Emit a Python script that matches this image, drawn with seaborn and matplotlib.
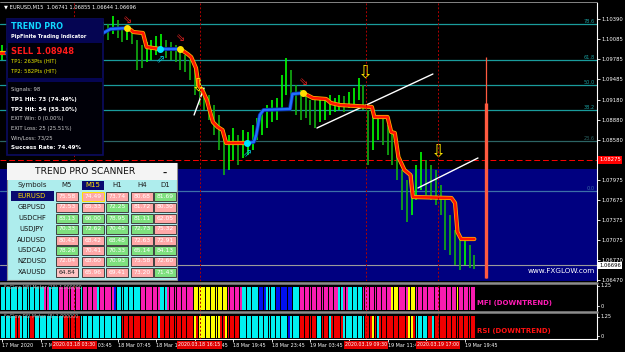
import matplotlib
matplotlib.use("Agg")
import matplotlib.pyplot as plt
import matplotlib.transforms as mtransforms
from matplotlib.patches import Rectangle
import numpy as np
import pandas as pd
import seaborn as sns

# ------------------------------------------------------------------ data
chart_title = "\u25BC EURUSD,M15  1.06741 1.06855 1.06644 1.06696"
price_ticks = [1.10390, 1.10085, 1.09785, 1.09485, 1.09180, 1.08880, 1.08580,
               1.07975, 1.07675, 1.07375, 1.07075, 1.06770, 1.06470]
price_range = [1.06460, 1.10630]
time_tick_bars = [0, 16, 32, 48, 64, 80, 96, 112, 128, 144, 160, 176, 192]
time_tick_labels = ["17 Mar 2020", "17 Mar 23:45", "18 Mar 03:45", "18 Mar 07:45",
                    "18 Mar 11:45", "18 Mar 15:45", "18 Mar 19:45", "18 Mar 23:45",
                    "19 Mar 03:45", "19 Mar 07:45", "19 Mar 11:45", "19 Mar 15:45",
                    "19 Mar 19:45"]
event_bars = [30, 82, 151, 181]
event_labels = ["2020.03.18 03:30", "2020.03.18 16:15", "2020.03.19 09:30", "2020.03.19 17:00"]

# price bars (one per 30 min)
bar_highs = [1.10000, 1.09955, 1.10045, 1.10075, 1.10105, 1.10135, 1.10105, 1.10150, 1.10195, 1.10225,
             1.10195, 1.10255, 1.10285, 1.10255, 1.10315, 1.10345, 1.10300, 1.10345, 1.10375, 1.10345,
             1.10375, 1.10345, 1.10315, 1.10435, 1.10375, 1.10255, 1.10225, 1.10195, 1.10075, 1.10000,
             1.10045, 1.10075, 1.10135, 1.10165, 1.10075, 1.10045, 1.10000, 1.09925, 1.09850, 1.09775,
             1.09625, 1.09475, 1.09355, 1.09250, 1.09100, 1.08950, 1.08725, 1.08650, 1.08755, 1.08650,
             1.08725, 1.08695, 1.08800, 1.08905, 1.09025, 1.09100, 1.09175, 1.09205, 1.09550, 1.09805,
             1.09625, 1.09400, 1.09325, 1.09250, 1.09175, 1.09175, 1.09205, 1.09175, 1.09250, 1.09205,
             1.09250, 1.09235, 1.09295, 1.09355, 1.09505, 1.09400, 1.09025, 1.08950, 1.08905, 1.08950,
             1.08800, 1.08725, 1.08575, 1.08125, 1.07975, 1.08050, 1.08200, 1.08395, 1.08275, 1.08200,
             1.08125, 1.07900, 1.07675, 1.07450, 1.07225, 1.07075, 1.07105, 1.07000, 1.06855]
bar_lows = [1.09775, 1.09805, 1.09850, 1.09895, 1.09925, 1.09955, 1.09925, 1.09985, 1.10015, 1.10045,
            1.10015, 1.10075, 1.10105, 1.10075, 1.10135, 1.10165, 1.10135, 1.10180, 1.10195, 1.10165,
            1.10225, 1.10135, 1.10075, 1.10165, 1.10105, 1.10045, 1.10075, 1.10015, 1.09625, 1.09655,
            1.09745, 1.09775, 1.09850, 1.09895, 1.09805, 1.09775, 1.09745, 1.09625, 1.09595, 1.09475,
            1.09250, 1.09100, 1.09025, 1.08875, 1.08650, 1.08425, 1.08050, 1.08125, 1.08275, 1.08200,
            1.08305, 1.08350, 1.08425, 1.08575, 1.08650, 1.08755, 1.08845, 1.08875, 1.09025, 1.09250,
            1.09175, 1.08950, 1.08875, 1.08905, 1.08800, 1.08755, 1.08845, 1.08875, 1.08950, 1.08995,
            1.09025, 1.08995, 1.09055, 1.09100, 1.09175, 1.09025, 1.08200, 1.08425, 1.08575, 1.08500,
            1.08350, 1.08200, 1.07975, 1.07525, 1.07345, 1.07450, 1.07675, 1.07825, 1.07750, 1.07675,
            1.07600, 1.07450, 1.06925, 1.06850, 1.06700, 1.06625, 1.06700, 1.06655, 1.06644]
bars_per_candle = 2
last_price = 1.06696

# trend indicator (stepped line) segments
seg_dir = ["down", "up", "down", "up", "down", "up", "down"]
seg_bar = [
    [-1, 2],
    [2, 24, 42, 45, 52],
    [52, 53.5, 54.5, 58.5, 60, 65.5],
    [65.5, 74],
    [74, 77, 78.5, 80.5, 81.5, 83.5, 85, 87.5, 89.5, 91.5, 93, 101.5],
    [101.5, 104.5, 105.5, 107, 108.5, 119.5, 120.5, 125],
    [125, 129, 134.5, 136.5, 140, 153.5, 154.5, 160, 161.5, 163, 164.5, 167, 169.5,
     170.5, 186.5, 188, 189, 190.5, 196]]
seg_price = [
    [1.09880, 1.09880],
    [1.09880, 1.10075, 1.10180, 1.10240, 1.10255],
    [1.10255, 1.10225, 1.10195, 1.10180, 1.09970, 1.09940],
    [1.09940, 1.09940],
    [1.09940, 1.09865, 1.09820, 1.09655, 1.09400, 1.09295, 1.09175, 1.08845, 1.08770,
     1.08725, 1.08530, 1.08530],
    [1.08530, 1.08545, 1.08650, 1.08950, 1.09025, 1.09040, 1.09265, 1.09280],
    [1.09280, 1.09205, 1.09190, 1.09130, 1.09100, 1.09070, 1.08920, 1.08920, 1.08695,
     1.08680, 1.08320, 1.08125, 1.08050, 1.07720, 1.07705, 1.07630, 1.07195, 1.07090, 1.07090]]
buy_dot_bar = [65.5, 101.5]
buy_dot_price = [1.09940, 1.08530]
sell_dot_bar = [52, 74, 125]
sell_dot_price = [1.10255, 1.09940, 1.09280]
sell_arrow_bar = [52, 74, 125]
sell_arrow_price = [1.10375, 1.10105, 1.09440]
buy_arrow_bar = [66, 102]
buy_arrow_price = [1.09775, 1.08365]
alert_bar = [81.7, 151, 181]
alert_price = [1.09385, 1.09580, 1.08395]

# white trend lines
wline_bar = [[79.7, 83.8], [130.7, 178.8], [172.6, 197.5]]
wline_price = [[1.08950, 1.09355], [1.08755, 1.09565], [1.07855, 1.08305]]

# fibonacci levels
fib_labels = ["78.6", "61.8", "50.0", "38.2", "23.6", "0.0"]
fib_prices = [1.10315, 1.09775, 1.09400, 1.09025, 1.08560, 1.07810]
zone_top = 1.08140
sell_level = 1.08275
marker_bar = 201
marker_thin_top = 1.09820
marker_thick_top = 1.09130
marker_bottom = 1.06505

# meters (run-length encoded colours per bar)
mfi_run_color = ["c", "m", "c", "m", "c", "m", "c", "m", "b", "c", "m", "c", "m", "y", "m", "c",
                 "b", "c", "b", "c", "m", "c", "m", "c", "m", "y", "m", "y", "m", "y", "m"]
mfi_run_len = [18, 2, 4, 9, 1, 6, 1, 6, 1, 10, 8, 3, 11, 14, 6, 7,
               3, 4, 7, 3, 16, 2, 2, 6, 12, 3, 4, 3, 17, 1, 7]
rsi_run_color = ["c", "r", "c", "r", "c", "r", "c", "r", "c", "r", "y", "r", "y", "r", "y", "r",
                 "c", "b", "c", "r", "c", "r", "c", "r", "c", "r", "y", "r", "c", "r", "y", "r",
                 "c", "r", "c", "r"]
rsi_run_len = [6, 2, 4, 2, 12, 7, 17, 15, 1, 14, 1, 1, 9, 2, 1, 5,
               20, 1, 4, 7, 2, 3, 1, 5, 9, 3, 1, 1, 1, 12, 2, 1,
               5, 2, 1, 17]
meter_palette = {"c": "#00F0F0", "m": "#F81CB0", "y": "#FFFF00", "b": "#0010F0", "r": "#F00000"}

# info panel
info_title = "TREND PRO"
info_sub = "PipFinite Trading Indicator"
info_signal = "SELL 1.08948"
info_tp = ["TP1: 263Pts (HIT)", "TP2: 582Pts (HIT)"]
info_stats = ["Signals: 98", "TP1 Hit: 73 (74.49%)", "TP2 Hit: 54 (55.10%)",
              "EXIT Win: 0 (0.00%)", "EXIT Loss: 25 (25.51%)", "Win/Loss: 73/25",
              "Success Rate: 74.49%"]
info_stats_bold = [False, True, True, False, False, False, True]

# scanner
scanner_symbols = ["EURUSD", "GBPUSD", "USDCHF", "USDJPY", "AUDUSD", "USDCAD", "NZDUSD", "XAUUSD"]
scanner_tfs = ["M5", "M15", "H1", "H4", "D1"]
scanner_values = [
    [75.58, 74.49, 73.74, 80.68, 81.69],
    [72.53, 65.33, 72.25, 81.72, 80.30],
    [83.13, 66.00, 78.95, 81.11, 62.05],
    [70.33, 72.62, 70.45, 72.73, 75.32],
    [80.43, 68.42, 68.48, 72.63, 72.91],
    [78.26, 70.41, 70.33, 65.14, 84.13],
    [72.04, 68.60, 70.93, 75.58, 72.60],
    [64.84, 65.96, 69.41, 73.20, 71.43]]
scanner_up = [
    [0, 0, 0, 0, 1],
    [0, 0, 1, 0, 0],
    [1, 1, 1, 1, 0],
    [1, 1, 1, 1, 0],
    [0, 0, 1, 0, 0],
    [1, 0, 1, 1, 1],
    [0, 0, 1, 0, 0],
    [0, 0, 0, 0, 1]]

# ------------------------------------------------------------------ style
sns.set_theme(style="dark", rc={"axes.facecolor": "black", "figure.facecolor": "black",
                                "axes.grid": False, "patch.force_edgecolor": False})
plt.rcParams["font.family"] = ["DejaVu Sans"]

W, H = 625, 352
fig = plt.figure(figsize=(W / 100, H / 100), dpi=100, facecolor="black")


def px_axes(x0, y0, x1, y1, z=0):
    return fig.add_axes([x0 / W, 1 - y1 / H, (x1 - x0) / W, (y1 - y0) / H], zorder=z)


ax = px_axes(0, 3, 597, 281)
ax_mfi = px_axes(0, 284, 597, 311)
ax_rsi = px_axes(0, 313, 597, 339)
ov = px_axes(0, 0, W, H, z=10)
ov.set_xlim(0, W)
ov.set_ylim(H, 0)
ov.axis("off")
ov.patch.set_alpha(0)

XLIM = (-0.83, 246.9)

# ------------------------------------------------------------------ main chart
ax.set_facecolor("black")
ax.set_xlim(*XLIM)
ax.set_ylim(*price_range)
ax.axhspan(price_range[0], zone_top, color="#000080", lw=0, zorder=0)

blend = mtransforms.blended_transform_factory(ax.transAxes, ax.transData)
for lab, p in zip(fib_labels, fib_prices):
    col = "#1A9C9C"
    if lab == "23.6":
        col = "#2C6464"
    if lab == "0.0":
        col = "#3C6FA8"
    ax.axhline(p, color=col, lw=0.9, zorder=1)
    ax.text(0.997, p + 0.00006, lab, transform=blend, ha="right", va="bottom",
            fontsize=3.6, color=col, zorder=2)

ax.axhline(sell_level, color="#FF0000", lw=0.7, ls=(0, (6, 3)), zorder=1)
ax.axhline(last_price, color="#9A9A9A", lw=0.8, zorder=1)

# candles
df = pd.DataFrame({"high": bar_highs, "low": bar_lows})
df["bar"] = np.arange(len(df)) * bars_per_candle
mid = (df["high"] + df["low"]) / 2
up = mid.diff().fillna(0) >= 0
ax.vlines(df["bar"], df["low"], df["high"], colors=np.where(up, "#00FF00", "#12B012"),
          lw=1.2, zorder=3)

# white trend lines
for xs, ps in zip(wline_bar, wline_price):
    sns.lineplot(x=xs, y=ps, ax=ax, color="white", lw=1.0, estimator=None, sort=False,
                 legend=False, zorder=4)

# trend indicator
for d, xs, ps in zip(seg_dir, seg_bar, seg_price):
    if d == "down":
        sns.lineplot(x=xs, y=ps, ax=ax, color="#FFB400", lw=3.0, estimator=None, sort=False,
                     legend=False, zorder=5)
        sns.lineplot(x=xs, y=ps, ax=ax, color="#FF1400", lw=1.9, estimator=None, sort=False,
                     legend=False, zorder=5)
    else:
        sns.lineplot(x=xs, y=ps, ax=ax, color="#0A2AA8", lw=2.8, estimator=None, sort=False,
                     legend=False, zorder=5)
        sns.lineplot(x=xs, y=ps, ax=ax, color="#2070FF", lw=1.7, estimator=None, sort=False,
                     legend=False, zorder=5)
ax.plot(buy_dot_bar, buy_dot_price, "o", color="#00E5FF", ms=4, zorder=6)
ax.plot(sell_dot_bar, sell_dot_price, "o", color="#FFE000", ms=4, zorder=6)
for b, p in zip(sell_arrow_bar, sell_arrow_price):
    ax.text(b, p, "\u21D8", color="#E02020", fontsize=8, ha="center", va="center", zorder=6)
for b, p in zip(buy_arrow_bar, buy_arrow_price):
    ax.text(b, p, "\u21D7", color="#00C8E0", fontsize=8, ha="center", va="center", zorder=6)
for b, p in zip(alert_bar, alert_price):
    ax.text(b, p, "\u21E9", color="#FFE600", fontsize=13, ha="center", va="center",
            zorder=7)

# orange marker line
ax.vlines(marker_bar, marker_bottom, marker_thin_top, color="#FF5A40", lw=0.9, zorder=4)
ax.vlines(marker_bar, marker_bottom, marker_thick_top, color="#FF5A40", lw=2.4, zorder=4)

ax.text(0.94, 0.035, "www.FXGLOW.com", transform=ax.transAxes, color="white", fontsize=5.2,
        ha="center", va="center", zorder=8)

# right price axis
ax.yaxis.tick_right()
ax.set_yticks(price_ticks)
ax.set_yticklabels([f"{p:.5f}" for p in price_ticks])
ax.tick_params(axis="y", colors="white", labelsize=3.8, length=2, width=0.6, pad=1.2,
               right=True, left=False)
ax.set_xticks([])
ax.set_ylabel("")
ax.set_xlabel("")
for s in ["left", "bottom", "top"]:
    ax.spines[s].set_visible(False)
ax.spines["right"].set_color("white")
ax.spines["right"].set_linewidth(0.8)
ax.text(1.004, sell_level, f"{sell_level:.5f}", transform=blend, fontsize=3.8, color="white",
        ha="left", va="center", clip_on=False, zorder=20,
        bbox=dict(boxstyle="square,pad=0.2", fc="#FF0000", ec="none"))
ax.text(1.004, last_price, f"{last_price:.5f}", transform=blend, fontsize=3.8, color="black",
        ha="left", va="center", clip_on=False, zorder=20,
        bbox=dict(boxstyle="square,pad=0.2", fc="white", ec="none"))

for b in event_bars:
    for a in (ax, ax_mfi, ax_rsi):
        a.axvline(b, color="#B00000", lw=0.7, ls=(0, (2, 2)), zorder=9)


# ------------------------------------------------------------------ meters
def draw_meter(axm, run_color, run_len, title, state, state_col):
    cols = [meter_palette[c] for c, n in zip(run_color, run_len) for _ in range(n)]
    axm.set_facecolor("black")
    axm.bar(np.arange(len(cols)), 1.0, width=0.8, bottom=0, color=cols, edgecolor="none",
            lw=0, antialiased=False, zorder=2)
    axm.set_xlim(*XLIM)
    axm.set_ylim(-0.043, 1.13)
    axm.set_yticks([])
    axm.set_xticks([])
    for s in ["left", "top", "bottom"]:
        axm.spines[s].set_visible(False)
    axm.spines["right"].set_color("white")
    axm.spines["right"].set_linewidth(0.8)
    axm.text(4 / 597, 0.97, title, transform=axm.transAxes, fontsize=3.4, color="#B0B0B0",
             ha="left", va="top", zorder=5)
    axm.text(477 / 597, 0.3, state, transform=axm.transAxes, fontsize=5.0, color=state_col,
             fontweight="bold", ha="left", va="center", zorder=5)


draw_meter(ax_mfi, mfi_run_color, mfi_run_len, "FxGlow MFI Meter (15) 1.000000",
           "MFI (DOWNTREND)", "#FF1CB4")
draw_meter(ax_rsi, rsi_run_color, rsi_run_len, "FxGlow RSI Meter (8) 1.000000",
           "RSI (DOWNTREND)", "#FF1010")

ax_rsi.spines["bottom"].set_visible(True)
ax_rsi.spines["bottom"].set_color("white")
ax_rsi.spines["bottom"].set_linewidth(0.8)
ax_rsi.set_xticks(time_tick_bars)
ax_rsi.set_xticklabels(time_tick_labels, ha="left")
ax_rsi.tick_params(axis="x", colors="white", labelsize=3.5, length=2, width=0.6, pad=1,
                   bottom=True)
tblend = mtransforms.blended_transform_factory(ax_rsi.transData, ax_rsi.transAxes)
for b, lab in zip(event_bars, event_labels):
    ax_rsi.text(b, -0.23, lab, transform=tblend, fontsize=3.4, color="white", ha="center",
                va="center", clip_on=False, zorder=12,
                bbox=dict(boxstyle="square,pad=0.25", fc="#E00000", ec="none"))

# meter scale labels
for y, lab in [(285.5, "1.25"), (306, "0"), (316.5, "1.25"), (336, "0")]:
    ov.text(600.5, y, lab, fontsize=3.6, color="white", ha="left", va="center")
    ov.plot([597, 599], [y, y], color="white", lw=0.6)
ov.plot([0, 597], [282.5, 282.5], color="#8C8C8C", lw=1.8)
ov.plot([0, 597], [312, 312], color="#8C8C8C", lw=1.8)
ov.plot([0, 597], [2, 2], color="#9A9A9A", lw=0.6)

# header
ov.text(4, 6.5, chart_title, fontsize=3.7, color="white", ha="left", va="center")

# ------------------------------------------------------------------ info panel
ov.add_patch(Rectangle((7, 19), 96, 136, fc="#000008", ec="#0C0C60", lw=1.2))
ov.add_patch(Rectangle((7, 19), 96, 24, fc="#050552", ec="none"))
ov.add_patch(Rectangle((7, 78), 96, 4, fc="#050552", ec="none"))
ov.text(11, 26.5, info_title, fontsize=5.8, color="#10D8FF", fontweight="bold", va="center")
ov.text(11, 36.5, info_sub, fontsize=3.6, color="white", fontweight="bold", va="center")
ov.text(11, 51, info_signal, fontsize=6.0, color="#FF1A1A", fontweight="bold", va="center")
for i, t in enumerate(info_tp):
    ov.text(11, 61.5 + 10 * i, t, fontsize=3.8, color="#E8E800", va="center")
for i, (t, bold) in enumerate(zip(info_stats, info_stats_bold)):
    ov.text(11, 90 + 9.6 * i, t, fontsize=4.1 if bold else 3.8,
            color="white" if bold else "#D0D0D0", fontweight="bold" if bold else "normal",
            va="center")

# ------------------------------------------------------------------ scanner
ov.add_patch(Rectangle((7, 163), 170, 117, fc="#AEEDED", ec="#909090", lw=0.8))
ov.add_patch(Rectangle((7, 163), 170, 17, fc="#F4F4F4", ec="none"))
ov.text(85, 171.5, "TREND PRO SCANNER", fontsize=6.6, color="#101010", ha="center", va="center")
ov.text(165, 173, "\u2013", fontsize=6, color="#101010", ha="center", va="center",
        fontweight="bold")
col_x = [67, 93, 117, 142, 165]
row_y = [196, 207, 218, 229, 240, 250.5, 261, 272]
ov.text(32, 185, "Symbols", fontsize=5.0, color="#202020", ha="center", va="center")
for j, tf in enumerate(scanner_tfs):
    tc = "#202020"
    if tf == "M15":
        ov.add_patch(Rectangle((col_x[j] - 11, 180.5), 22, 9.5, fc="#0A0A70", ec="none"))
        tc = "#FFE000"
    ov.text(col_x[j], 185, tf, fontsize=5.0, color=tc, ha="center", va="center")
for i, sym in enumerate(scanner_symbols):
    tc = "#101010"
    if sym == "EURUSD":
        ov.add_patch(Rectangle((11, row_y[i] - 5), 43, 10, fc="#0A0A70", ec="none"))
        tc = "#FFE000"
    ov.text(32, row_y[i], sym, fontsize=4.9, color=tc, ha="center", va="center")
    for j in range(len(scanner_tfs)):
        fc = "#7EE07E" if scanner_up[i][j] else "#FFA8A8"
        ec = "#404040"
        txt = "white"
        if sym == "EURUSD" and scanner_tfs[j] == "M15":
            ec = "#FFE000"
        if sym == "XAUUSD" and scanner_tfs[j] == "M5":
            fc = "#FFC4C4"
            txt = "#202020"
        ov.add_patch(Rectangle((col_x[j] - 11, row_y[i] - 4.5), 22, 9, fc=fc, ec=ec, lw=0.7))
        ov.text(col_x[j], row_y[i], f"{scanner_values[i][j]:.2f}", fontsize=4.3, color=txt,
                ha="center", va="center")

fig.savefig("out.png", dpi=100, facecolor="black")
